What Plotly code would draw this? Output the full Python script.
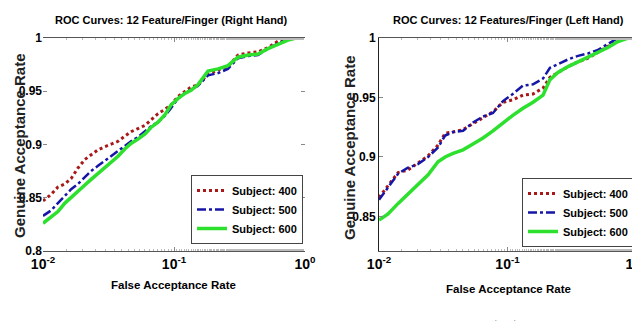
import plotly.graph_objects as go

# ---- data ----
far_right_hand = [0.0100, 0.0115, 0.0130, 0.0147, 0.0164, 0.0185, 0.0209, 0.0232, 0.0263, 0.0297,
                  0.0330, 0.0374, 0.0423, 0.0470, 0.0531, 0.0601, 0.0667, 0.0755, 0.0853, 0.0948,
                  0.107, 0.121, 0.135, 0.152, 0.182, 0.217, 0.258, 0.308, 0.367, 0.438,
                  0.522, 0.622, 0.741, 0.853]
gar_rh_400 = [0.847, 0.853, 0.860, 0.863, 0.868, 0.878, 0.886, 0.890, 0.895, 0.898,
              0.900, 0.903, 0.908, 0.912, 0.915, 0.918, 0.923, 0.929, 0.933, 0.937,
              0.945, 0.950, 0.954, 0.956, 0.966, 0.970, 0.973, 0.984, 0.986, 0.987,
              0.991, 0.997, 1.0, 1.0]
gar_rh_500 = [0.833, 0.838, 0.845, 0.852, 0.858, 0.863, 0.870, 0.875, 0.880, 0.885,
              0.889, 0.894, 0.899, 0.903, 0.907, 0.912, 0.917, 0.921, 0.927, 0.934,
              0.943, 0.948, 0.952, 0.955, 0.965, 0.967, 0.971, 0.981, 0.983, 0.984,
              0.990, 0.995, 0.999, 1.0]
gar_rh_600 = [0.826, 0.832, 0.837, 0.845, 0.850, 0.856, 0.862, 0.867, 0.873, 0.878,
              0.883, 0.889, 0.896, 0.901, 0.905, 0.910, 0.916, 0.921, 0.928, 0.937,
              0.943, 0.948, 0.951, 0.956, 0.969, 0.971, 0.974, 0.982, 0.984, 0.985,
              0.990, 0.994, 0.998, 1.0]

far_left_hand = [0.0100, 0.0117, 0.0141, 0.0168, 0.0201, 0.0241, 0.0288, 0.0327, 0.0377, 0.0451,
                 0.0539, 0.0645, 0.0771, 0.0922, 0.110, 0.132, 0.158, 0.189, 0.214, 0.247,
                 0.296, 0.354, 0.423, 0.506, 0.605, 0.724, 0.866, 0.963]
gar_lh_400 = [0.866, 0.876, 0.887, 0.889, 0.895, 0.901, 0.910, 0.920, 0.921, 0.923,
              0.928, 0.933, 0.938, 0.946, 0.948, 0.952, 0.953, 0.958, 0.967, 0.971,
              0.976, 0.980, 0.983, 0.988, 0.993, 0.998, 1.0, 1.0]
gar_lh_500 = [0.864, 0.874, 0.886, 0.891, 0.894, 0.900, 0.908, 0.918, 0.921, 0.922,
              0.929, 0.934, 0.937, 0.947, 0.953, 0.960, 0.961, 0.966, 0.975, 0.978,
              0.982, 0.985, 0.987, 0.990, 0.995, 1.0, 1.0, 1.0]
gar_lh_600 = [0.847, 0.852, 0.861, 0.869, 0.877, 0.885, 0.896, 0.900, 0.903, 0.906,
              0.911, 0.916, 0.922, 0.929, 0.935, 0.941, 0.946, 0.952, 0.965, 0.971,
              0.976, 0.980, 0.984, 0.988, 0.992, 0.997, 1.0, 1.0]

subjects = ["Subject: 400", "Subject: 500", "Subject: 600"]
x_tickvals = [0.01, 0.1, 1]
x_ticktext = ["<b>10<sup>-2</sup></b>", "<b>10<sup>-1</sup></b>", "<b>10<sup>0</sup></b>"]
y_ticks_rh = [0.8, 0.85, 0.9, 0.95, 1.0]
y_ticks_lh = [0.85, 0.9, 0.95, 1.0]

NARROW = "Liberation Sans Narrow, Arial Narrow, Liberation Sans, sans-serif"
WIDE = "Liberation Sans, Arial, sans-serif"

styles = [
    dict(color="#A81818", width=3, dash="dot"),
    dict(color="#1515A8", width=2.5, dash="dashdot"),
    dict(color="#2EE02E", width=3.5, dash="solid"),
]

W, H = 640, 321


def px(x, y):
    # pixel position -> paper fraction
    return x / W, 1 - y / H


fig = go.Figure()

for name, vals, st in zip(subjects, [gar_rh_400, gar_rh_500, gar_rh_600], styles):
    fig.add_trace(go.Scatter(x=far_right_hand, y=vals, mode="lines", name=f"<b>{name}</b>",
                             line=st, xaxis="x", yaxis="y", legend="legend"))
for name, vals, st in zip(subjects, [gar_lh_400, gar_lh_500, gar_lh_600], styles):
    fig.add_trace(go.Scatter(x=far_left_hand, y=vals, mode="lines", name=f"<b>{name}</b>",
                             line=st, xaxis="x2", yaxis="y2", legend="legend2"))

xaxis_common = dict(
    type="log", range=[-2, 0], tickvals=x_tickvals, ticktext=x_ticktext,
    ticks="inside", ticklen=4, tickcolor="#888", showgrid=False, zeroline=False,
    showline=True, linecolor="#555", linewidth=1, mirror="ticks",
    minor=dict(ticks="inside", ticklen=2, tickcolor="#bbb", showgrid=False),
    tickfont=dict(family=NARROW, size=14, color="black"), automargin=False,
)
yaxis_common = dict(
    ticks="inside", ticklen=4, tickcolor="#888", showgrid=False, zeroline=False,
    tickfont=dict(family=NARROW, size=12, color="black"), automargin=False,
)


def label(text, x, y, size, family=NARROW, angle=0, color="black", anchor="middle"):
    fx, fy = px(x, y)
    return dict(text=text, x=fx, y=fy, xref="paper", yref="paper", showarrow=False,
                xanchor="center", yanchor=anchor, textangle=angle,
                font=dict(family=family, size=size, color=color))


legend_common = dict(xanchor="right", yanchor="bottom",
                     bgcolor="white", bordercolor="#444", borderwidth=1,
                     font=dict(family=NARROW, size=11, color="black"),
                     tracegroupgap=0, itemwidth=30)

fig.update_layout(
    width=W, height=H, autosize=False,
    margin=dict(l=0, r=0, t=0, b=0, pad=0, autoexpand=False),
    paper_bgcolor="white", plot_bgcolor="white",
    xaxis=dict(domain=[35 / W, 297 / W], anchor="y", **xaxis_common),
    yaxis=dict(domain=[1 - 243 / H, 1 - 30 / H], anchor="x", range=[0.8, 1.0],
               tickvals=y_ticks_rh,
               ticktext=["<b>0.8</b>", "<b>0.85</b>", "<b>0.9</b>", "<b>0.95</b>", "<b>1</b>"],
               showline=False, mirror="ticks", **yaxis_common),
    xaxis2=dict(domain=[371 / W, 628 / W], anchor="y2", **xaxis_common),
    yaxis2=dict(domain=[1 - 243 / H, 1 - 30 / H], anchor="x2", range=[0.821, 1.0],
                tickvals=y_ticks_lh,
                ticktext=["<b>0.85</b>", "<b>0.9</b>", "<b>0.95</b>", "<b>1</b>"],
                showline=True, linecolor="#222", linewidth=1, mirror="ticks", **yaxis_common),
    legend=dict(x=295 / W, y=1 - 236 / H, **legend_common),
    legend2=dict(x=626 / W, y=1 - 239 / H, **legend_common),
    annotations=[
        label("<b>ROC Curves: 12 Feature/Finger (Right Hand)</b>", 163, 12, 11),
        label("<b>ROC Curves: 12 Features/Finger (Left Hand)</b>", 500, 12, 11),
        label("<b>False Acceptance Rate</b>", 165, 277, 11.5),
        label("<b>False Acceptance Rate</b>", 500, 281, 11.5),
        label("<b>Genuine Acceptance Rate</b>", 11, 138, 15, WIDE, -90, "#222"),
        label("<b>Genuine Acceptance Rate</b>", 341, 140, 15, WIDE, -90, "#222"),
        label("(12)", 497, 307, 17, "Liberation Serif, serif", anchor="top"),
    ],
)

fig.write_html("out.html")
